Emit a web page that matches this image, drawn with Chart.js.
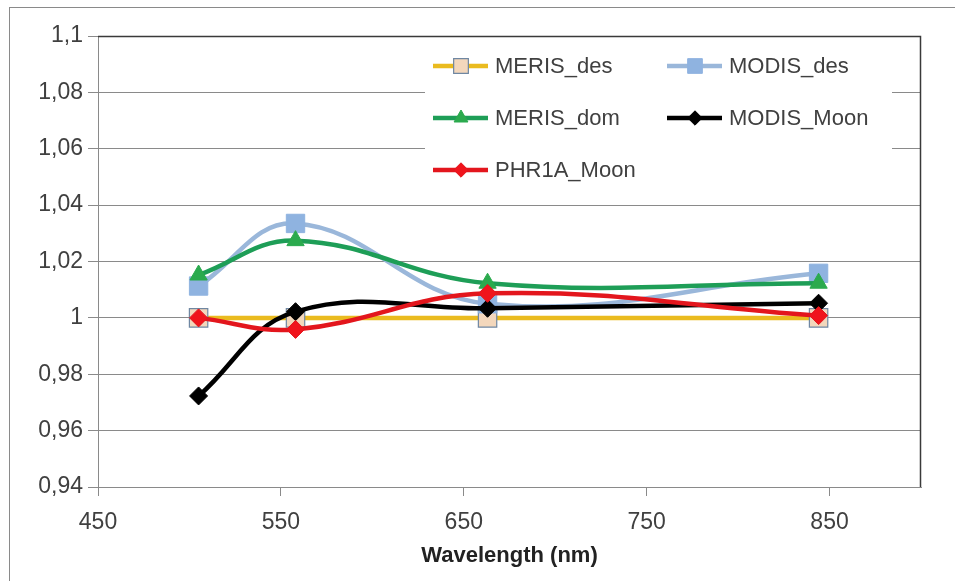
<!DOCTYPE html>
<html>
<head>
<meta charset="utf-8">
<script src="https://cdn.jsdelivr.net/npm/chart.js@4.4.1/dist/chart.umd.min.js"></script>
<style>
  html, body { margin: 0; background: #fff; }
  #wrap { position: relative; width: 955px; height: 581px; }
</style>
</head>
<body>
<div id="wrap"><canvas id="chart" width="955" height="581"></canvas></div>
<script>
// wavelengths (nm) and ratio values
const wavelengths = [505, 558, 663, 844];
const merisDes  = [1.000, 1.000, 1.000, 1.000];
const modisDes  = [1.0113, 1.0335, 1.005, 1.0158];
const merisDom  = [1.0152, 1.0274, 1.0123, 1.0123];
const modisMoon = [0.9723, 1.0022, 1.0034, 1.0052];
const phr1aMoon = [1.000, 0.9959, 1.0087, 1.0008];

const seriesNames = ["MERIS_des", "MODIS_des", "MERIS_dom", "MODIS_Moon", "PHR1A_Moon"];
const xTicks = [450, 550, 650, 750, 850];
const yTicks = [0.94, 0.96, 0.98, 1.00, 1.02, 1.04, 1.06, 1.08, 1.10];

const TXT = "#404040";
const FONT = "'Liberation Sans', Arial, sans-serif";

function pts(vals){
  return wavelengths.map((w,i)=>({x:w, y:vals[i]}));
}

function series(i, vals, line, style){
  return Object.assign({
    label: seriesNames[i],
    data: pts(vals),
    borderColor: line,
    borderWidth: 4.5,
    tension: 0.4,
    fill: false,
    order: 5 - i
  }, style);
}

const datasets = [
  series(0, merisDes, "#EABB1F", {pointStyle:"rect", pointRadius:13, pointBackgroundColor:"#F3D7BC", pointBorderColor:"#6F87A2", pointBorderWidth:1.2}),
  series(1, modisDes, "#9AB7DA", {pointStyle:"rect", pointRadius:13, pointBackgroundColor:"#8FB3E0", pointBorderColor:"#8FB3E0", pointBorderWidth:1}),
  series(2, merisDom, "#1E9E57", {pointStyle:"triangle", pointRadius:10, pointBackgroundColor:"#2BAA4E", pointBorderColor:"#2BAA4E", pointBorderWidth:1}),
  series(3, modisMoon, "#000000", {pointStyle:"rectRot", pointRadius:9, pointBackgroundColor:"#000000", pointBorderColor:"#000000", pointBorderWidth:1}),
  series(4, phr1aMoon, "#E3161D", {pointStyle:"rectRot", pointRadius:9, pointBackgroundColor:"#F0141C", pointBorderColor:"#E3161D", pointBorderWidth:1})
];

/* outer frame + plot frame */
const frames = {
  id: "frames",
  beforeDraw(chart){
    const c = chart.ctx;
    c.save();
    c.strokeStyle = "#8a8a8a";
    c.lineWidth = 1;
    c.strokeRect(9.5, 7.5, 980, 620);
    c.restore();
  },
  afterDatasetsDraw(chart){
    const {ctx:c, chartArea:a} = chart;
    c.save();
    c.strokeStyle = "#3a3a3a";
    c.lineWidth = 1.5;
    c.beginPath();
    c.moveTo(a.left, a.top + 0.5);
    c.lineTo(a.right - 0.5, a.top + 0.5);
    c.lineTo(a.right - 0.5, a.bottom);
    c.stroke();
    c.restore();
  }
};

/* legend: 2 columns inside the plot */
const boxLegend = {
  id: "boxLegend",
  afterDraw(chart){
    const c = chart.ctx;
    const colX = [433, 667];
    const rowY = [66, 118, 170];
    c.save();
    c.fillStyle = "#fff";
    c.fillRect(425, 41, 467, 157);
    chart.data.datasets.forEach((ds, i) => {
      const x = colX[i % 2], y = rowY[Math.floor(i / 2)];
      c.strokeStyle = ds.borderColor;
      c.lineWidth = ds.borderWidth;
      c.beginPath();
      c.moveTo(x, y); c.lineTo(x + 55, y);
      c.stroke();
      c.fillStyle = ds.pointBackgroundColor;
      c.strokeStyle = ds.pointBorderColor;
      c.lineWidth = ds.pointBorderWidth;
      Chart.helpers.drawPoint(c, {pointStyle: ds.pointStyle, radius: ds.pointRadius * 0.8, borderWidth: ds.pointBorderWidth, rotation: 0}, x + 28, y);
      c.fillStyle = TXT;
      c.font = "22px " + FONT;
      c.textBaseline = "middle";
      c.textAlign = "left";
      c.fillText(ds.label, x + 62, y + 1);
    });
    c.restore();
  }
};

new Chart(document.getElementById("chart"), {
  type: "line",
  data: { datasets },
  options: {
    responsive: false,
    animation: false,
    layout: { padding: { left: 0, right: 34, top: 36, bottom: 0 } },
    plugins: { legend: { display: false }, tooltip: { enabled: false } },
    scales: {
      x: {
        type: "linear",
        min: 450, max: 900,
        afterBuildTicks: s => { s.ticks = xTicks.map(v => ({value: v})); },
        afterFit: s => { s.height = 94; },
        grid: { drawOnChartArea: false, drawTicks: true, tickLength: 9, color: "#8a8a8a" },
        border: { color: "#8a8a8a", width: 1 },
        ticks: { color: TXT, font: { family: FONT, size: 23 }, padding: 13, maxRotation: 0 },
        title: { display: true, text: "Wavelength (nm)", color: "#222", font: { family: FONT, size: 22, weight: "bold" }, padding: { top: 0, bottom: 12 } }
      },
      y: {
        min: 0.94, max: 1.1,
        afterBuildTicks: s => { s.ticks = yTicks.map(v => ({value: v})); },
        afterFit: s => { s.width = 98; },
        grid: { color: "#8a8a8a", lineWidth: 1, tickLength: 10 },
        border: { color: "#8a8a8a", width: 1 },
        ticks: {
          color: TXT, font: { family: FONT, size: 23 }, padding: 5,
          callback: v => String(Number(v.toFixed(2))).replace(".", ",")
        }
      }
    }
  },
  plugins: [frames, boxLegend]
});
</script>
</body>
</html>
